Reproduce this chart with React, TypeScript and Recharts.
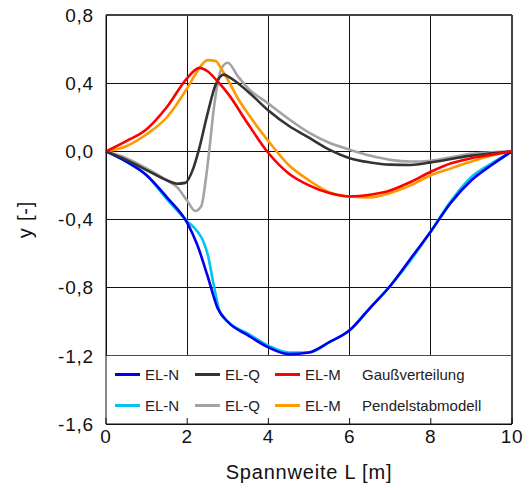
import React from 'react';
import { LineChart, Line, XAxis, YAxis, CartesianGrid, Legend, ReferenceArea, ReferenceLine } from 'recharts';

// EL-N Gaußverteilung
const gaussNX = [0, 0.5, 1, 1.5, 2, 2.25, 2.5, 2.75, 3, 3.5, 4, 4.5, 5, 5.5, 6, 6.5, 7, 7.5, 8, 8.5, 9, 9.5, 10];
const gaussNY = [0, -0.06, -0.14, -0.27, -0.42, -0.55, -0.73, -0.92, -1.0, -1.08, -1.15, -1.19, -1.18, -1.12, -1.05, -0.92, -0.79, -0.63, -0.47, -0.3, -0.17, -0.08, 0];
// EL-N Pendelstabmodell
const pendelNX = [0, 0.5, 1, 1.5, 2, 2.25, 2.4, 2.5, 2.65, 2.8, 3, 3.5, 4, 4.5, 5, 5.5, 6, 6.5, 7, 7.5, 8, 8.5, 9, 9.5, 10];
const pendelNY = [0, -0.06, -0.14, -0.28, -0.41, -0.47, -0.53, -0.6, -0.78, -0.94, -1.0, -1.07, -1.14, -1.18, -1.18, -1.12, -1.05, -0.92, -0.79, -0.64, -0.47, -0.29, -0.15, -0.07, 0];
// EL-Q Gaußverteilung
const gaussQX = [0, 0.5, 1, 1.5, 1.75, 1.95, 2.15, 2.3, 2.5, 2.7, 2.9, 3, 3.5, 4, 4.5, 5, 5.5, 6, 6.5, 7, 7.5, 8, 8.5, 9, 9.5, 10];
const gaussQY = [0, -0.05, -0.11, -0.17, -0.19, -0.185, -0.1, 0.02, 0.22, 0.39, 0.45, 0.44, 0.35, 0.24, 0.15, 0.08, 0.01, -0.04, -0.065, -0.078, -0.08, -0.065, -0.045, -0.025, -0.012, 0];
// EL-Q Pendelstabmodell
const pendelQX = [0, 0.5, 1, 1.5, 1.75, 2, 2.2, 2.35, 2.45, 2.55, 2.65, 2.75, 2.85, 3, 3.25, 3.5, 4, 4.5, 5, 5.5, 6, 6.5, 7, 7.5, 8, 8.5, 9, 9.5, 10];
const pendelQY = [0, -0.04, -0.1, -0.17, -0.21, -0.29, -0.35, -0.32, -0.18, 0.02, 0.24, 0.4, 0.49, 0.52, 0.44, 0.37, 0.28, 0.19, 0.11, 0.05, 0.01, -0.025, -0.05, -0.06, -0.055, -0.035, -0.015, -0.005, 0];
// EL-M Gaußverteilung
const gaussMX = [0, 0.5, 1, 1.5, 2, 2.3, 2.5, 2.75, 3, 3.5, 4, 4.5, 5, 5.5, 6, 6.5, 7, 7.5, 8, 8.5, 9, 9.5, 10];
const gaussMY = [0, 0.06, 0.13, 0.26, 0.43, 0.49, 0.47, 0.41, 0.34, 0.16, -0.01, -0.13, -0.2, -0.245, -0.265, -0.255, -0.23, -0.18, -0.12, -0.07, -0.04, -0.02, 0];
// EL-M Pendelstabmodell
const pendelMX = [0, 0.5, 1, 1.5, 2, 2.25, 2.5, 2.7, 2.85, 3, 3.25, 3.5, 4, 4.5, 5, 5.5, 6, 6.5, 7, 7.5, 8, 8.5, 9, 9.5, 10];
const pendelMY = [0, 0.03, 0.1, 0.2, 0.37, 0.47, 0.535, 0.53, 0.48, 0.42, 0.31, 0.22, 0.06, -0.08, -0.17, -0.24, -0.265, -0.27, -0.245, -0.2, -0.14, -0.1, -0.06, -0.025, 0];

const xTicks = [0, 2, 4, 6, 8, 10];
const yTicks = [-1.6, -1.2, -0.8, -0.4, 0, 0.4, 0.8];

const legendNames = ['EL-N', 'EL-Q', 'EL-M'];
const legendRows = [
  { title: 'Gaußverteilung', colors: ['#0000ee', '#333333', '#ff0000'] },
  { title: 'Pendelstabmodell', colors: ['#00c4f4', '#a3a3a3', '#ff9900'] },
];

const toPoints = (xs: number[], ys: number[]) => xs.map((x, i) => ({ x, y: ys[i] }));

const FONT = '"Liberation Sans", Arial, sans-serif';
const fmt = (v: number) => v.toFixed(1).replace('.', ',');
const tickStyle = { fontSize: 19, fill: '#111', fontFamily: FONT, letterSpacing: 0.8 };

const LegendBox = () => (
  <div style={{ fontFamily: FONT, fontSize: 15, color: '#222', paddingTop: 3 }}>
    {legendRows.map((row) => (
      <div key={row.title} style={{ position: 'relative', height: 31 }}>
        {legendNames.map((name, i) => (
          <div
            key={name}
            style={{ position: 'absolute', left: 9 + i * 80, top: 0, height: 31, display: 'flex', alignItems: 'center' }}
          >
            <span style={{ display: 'inline-block', width: 25, height: 3, background: row.colors[i], marginRight: 5 }} />
            <span>{name}</span>
          </div>
        ))}
        <div style={{ position: 'absolute', left: 256, top: 0, height: 31, display: 'flex', alignItems: 'center' }}>
          {row.title}
        </div>
      </div>
    ))}
  </div>
);

const YLabel = (props: any) => {
  const vb = props.viewBox;
  const x = vb.x + 25;
  const y = vb.y + vb.height / 2;
  return (
    <text x={x} y={y} transform={`rotate(-90 ${x} ${y})`} textAnchor="middle" dominantBaseline="central"
      fontFamily={FONT} fontSize={20} letterSpacing={0.8} fill="#111">
      y [-]
    </text>
  );
};

const XLabel = (props: any) => {
  const vb = props.viewBox;
  return (
    <text x={vb.x + vb.width / 2} y={vb.y + 48} textAnchor="middle" dominantBaseline="central"
      fontFamily={FONT} fontSize={20} letterSpacing={0.8} fill="#111">
      Spannweite L [m]
    </text>
  );
};

const App = () => {
  const lineProps = { type: 'monotone' as const, dataKey: 'y', dot: false, strokeWidth: 2.6, isAnimationActive: false };
  return (
    <div style={{ position: 'absolute', left: 0, top: 0, background: '#fff' }}>
      <LineChart width={531} height={488} margin={{ top: 15, right: 19, bottom: 0, left: 0 }}>
        <CartesianGrid stroke="#111" strokeWidth={1} shapeRendering="crispEdges" />
        <ReferenceArea y1={-1.6} y2={-1.2} fill="#fff" fillOpacity={1} stroke="none" />
        <XAxis
          type="number"
          dataKey="x"
          domain={[0, 10]}
          ticks={xTicks}
          height={64}
          stroke="#111"
          tickSize={-6}
          tickMargin={12}
          tick={tickStyle}
          label={{ content: XLabel }}
          allowDuplicatedCategory={false}
        />
        <YAxis
          type="number"
          domain={[-1.6, 0.8]}
          ticks={yTicks}
          width={106}
          stroke="#111"
          tickLine={false}
          tickSize={0}
          tickMargin={12}
          tickFormatter={fmt}
          tick={tickStyle}
          label={{ content: YLabel }}
        />
        <ReferenceLine y={0.8} stroke="#444" strokeWidth={2} />
        <ReferenceLine x={10} stroke="#444" strokeWidth={2} />
        <Legend
          layout="vertical"
          align="center"
          verticalAlign="middle"
          content={LegendBox}
          wrapperStyle={{ left: 106, top: 356, width: 406, height: 68 }}
        />
        <Line {...lineProps} data={toPoints(pendelNX, pendelNY)} stroke="#00c4f4" name="EL-N Pendelstabmodell" />
        <Line {...lineProps} data={toPoints(pendelQX, pendelQY)} stroke="#a3a3a3" name="EL-Q Pendelstabmodell" />
        <Line {...lineProps} data={toPoints(pendelMX, pendelMY)} stroke="#ff9900" name="EL-M Pendelstabmodell" />
        <Line {...lineProps} data={toPoints(gaussNX, gaussNY)} stroke="#0000ee" name="EL-N Gaußverteilung" />
        <Line {...lineProps} data={toPoints(gaussQX, gaussQY)} stroke="#333333" name="EL-Q Gaußverteilung" />
        <Line {...lineProps} data={toPoints(gaussMX, gaussMY)} stroke="#ff0000" name="EL-M Gaußverteilung" />
      </LineChart>
    </div>
  );
};

export default App;
